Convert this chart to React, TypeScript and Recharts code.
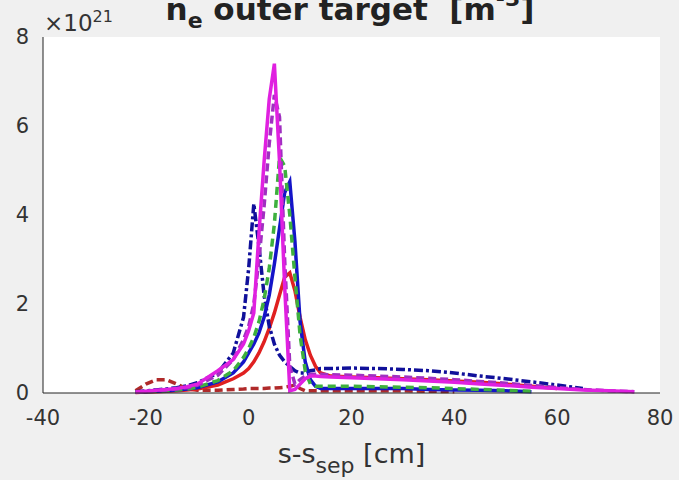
import React from "react";
import { CartesianGrid, Label, Line, LineChart, XAxis, YAxis } from "recharts";

// s - s_sep [cm]
const xs = [
  -22, -20, -18, -16, -14, -12, -10, -6, -3, -1, 0, 1, 2, 3, 4, 5, 6, 7, 8, 9, 10, 11, 12, 13, 14, 16, 20, 25, 30, 35, 40, 45, 50,
  55, 60, 65, 70, 75,
];

// n_e in units of 1e21 m^-3
const navyDashDot = [
  0.03, 0.05, 0.07, 0.09, 0.12, 0.16, 0.23, 0.45, 0.9, 1.7, 2.8, 4.25, 3.3, 2.2, 1.5, 1.1, 0.85, 0.7, 0.6, 0.5, 0.45, 0.45, 0.5,
  0.52, 0.55, 0.55, 0.56, 0.55, 0.53, 0.5, 0.45, 0.38, 0.32, 0.25, 0.18, 0.1, null, null,
];
const blueSolid = [
  0.02, 0.03, 0.04, 0.05, 0.07, 0.09, 0.12, 0.25, 0.45, 0.7, 0.9, 1.1, 1.35, 1.7, 2.2, 2.9, 3.7, 4.5, 4.75, 3.4, 1.6, 0.7, 0.3,
  0.15, 0.1, 0.1, 0.1, 0.1, 0.1, 0.08, 0.07, 0.06, 0.05, 0.03, null, null, null, null,
];
const greenDashed = [
  0.02, 0.03, 0.04, 0.05, 0.07, 0.09, 0.13, 0.28, 0.5, 0.8, 1.0, 1.25, 1.6, 2.1, 2.8, 3.8, 5.3, 5.1, 4.0, 2.6, 1.3, 0.5, 0.2,
  0.15, 0.15, 0.15, 0.15, 0.14, 0.13, 0.12, 0.1, 0.08, 0.06, 0.04, null, null, null, null,
];
const redSolid = [
  0.01, 0.02, 0.03, 0.04, 0.05, 0.07, 0.09, 0.18, 0.32, 0.45, 0.55, 0.7, 0.9, 1.15, 1.45, 1.8, 2.2, 2.6, 2.7, 2.3, 1.7, 1.2, 0.85,
  0.6, 0.45, 0.38, 0.36, 0.34, 0.32, 0.3, 0.27, 0.24, 0.2, 0.15, 0.1, null, null, null,
];
const darkRedDashed = [
  0.05, 0.2, 0.3, 0.3, 0.2, 0.1, 0.06, 0.06, 0.08, 0.09, 0.1, 0.1, 0.1, 0.1, 0.11, 0.11, 0.12, 0.13, 0.15, 0.18, 0.1, 0.05, 0.05,
  0.05, 0.05, 0.05, 0.05, 0.05, 0.05, 0.04, 0.03, null, null, null, null, null, null, null,
];
const purpleDashed = [
  0.02, 0.03, 0.05, 0.07, 0.09, 0.12, 0.17, 0.4, 0.75, 1.2, 1.5, 2.0, 3.0, 4.2, 5.6, 6.7, 6.2, 3.0, 0.6, 0.2, 0.3, 0.38, 0.42,
  0.42, 0.42, 0.41, 0.4, 0.38, 0.36, 0.33, 0.3, 0.26, 0.22, 0.17, 0.12, 0.08, 0.05, 0.03,
];
const magentaSolid = [
  0.02, 0.04, 0.06, 0.08, 0.1, 0.14, 0.2, 0.5, 0.75, 1.1, 1.4, 1.8, 3.6, 5.2, 6.6, 7.4, 5.2, 2.4, 0.05, 0.08, 0.2, 0.32, 0.38,
  0.38, 0.37, 0.36, 0.34, 0.32, 0.3, 0.27, 0.24, 0.2, 0.17, 0.13, 0.1, 0.07, 0.05, 0.03,
];

const xTicks = [-40, -20, 0, 20, 40, 60, 80];
const yTicks = [0, 2, 4, 6, 8];

const data = xs.map((x, i) => ({
  x,
  navyDashDot: navyDashDot[i],
  blueSolid: blueSolid[i],
  greenDashed: greenDashed[i],
  redSolid: redSolid[i],
  darkRedDashed: darkRedDashed[i],
  purpleDashed: purpleDashed[i],
  magentaSolid: magentaSolid[i],
}));

const FONT = "'DejaVu Sans', sans-serif";
const TEXT = "#333";

function XAxisLabel(props: any) {
  const { viewBox } = props;
  const cx = viewBox.x + viewBox.width / 2;
  const y = viewBox.y + 70;
  return (
    <text x={cx} y={y} textAnchor="middle" fontSize={27} fill={TEXT} fontFamily={FONT}>
      s-s
      <tspan dy={10} fontSize={22}>sep</tspan>
      <tspan dy={-10}> [cm]</tspan>
    </text>
  );
}

export default function App() {
  return (
    <div style={{ position: "absolute", left: 0, top: 0, width: 679, height: 480, background: "#f0f0f0", overflow: "hidden" }}>
      <LineChart width={679} height={480} data={data} margin={{ top: 37, right: 19, left: 0, bottom: 0 }}>
        <CartesianGrid fill="#ffffff" stroke="none" horizontal={false} vertical={false} />
        <XAxis
          dataKey="x"
          type="number"
          domain={[-40, 80]}
          ticks={xTicks}
          height={87}
          tickLine={false}
          tickSize={0}
          tickMargin={17}
          stroke="#222"
          tick={{ fill: TEXT, fontSize: 21, fontFamily: FONT }}
          allowDataOverflow
        >
          <Label content={XAxisLabel} />
        </XAxis>
        <YAxis
          type="number"
          domain={[0, 8]}
          ticks={yTicks}
          width={43}
          tickLine={false}
          tickSize={0}
          tickMargin={14}
          stroke="#222"
          tick={{ fill: TEXT, fontSize: 21, fontFamily: FONT }}
        />
        <Line dataKey="darkRedDashed" stroke="#b02a2a" strokeWidth={3.5} strokeDasharray="8 4" dot={false} isAnimationActive={false} />
        <Line dataKey="redSolid" stroke="#e02020" strokeWidth={3.5} dot={false} isAnimationActive={false} />
        <Line dataKey="navyDashDot" stroke="#10109a" strokeWidth={3.5} strokeDasharray="9 3 3 3" dot={false} isAnimationActive={false} />
        <Line dataKey="blueSolid" stroke="#1414c8" strokeWidth={3.5} dot={false} isAnimationActive={false} />
        <Line dataKey="greenDashed" stroke="#3eb03e" strokeWidth={3.5} strokeDasharray="8 5" dot={false} isAnimationActive={false} />
        <Line dataKey="purpleDashed" stroke="#a030c0" strokeWidth={3.5} strokeDasharray="8 4" dot={false} isAnimationActive={false} />
        <Line dataKey="magentaSolid" stroke="#e020e0" strokeWidth={3.5} dot={false} isAnimationActive={false} />
      </LineChart>
      <div
        style={{
          position: "absolute",
          left: 0,
          width: 700,
          top: -21,
          textAlign: "center",
          fontFamily: FONT,
          fontWeight: "bold",
          fontSize: 31,
          lineHeight: "40px",
          color: "#222",
          whiteSpace: "nowrap",
        }}
      >
        n<sub style={{ fontSize: 22, verticalAlign: -8 }}>e</sub> outer target&nbsp; [m
        <sup style={{ fontSize: 22, verticalAlign: 14 }}>-3</sup>]
      </div>
      <div style={{ position: "absolute", left: 44, top: 3, fontFamily: FONT, fontSize: 23, lineHeight: "28px", color: TEXT }}>
        ×10<sup style={{ fontSize: 16, verticalAlign: 9 }}>21</sup>
      </div>
    </div>
  );
}
